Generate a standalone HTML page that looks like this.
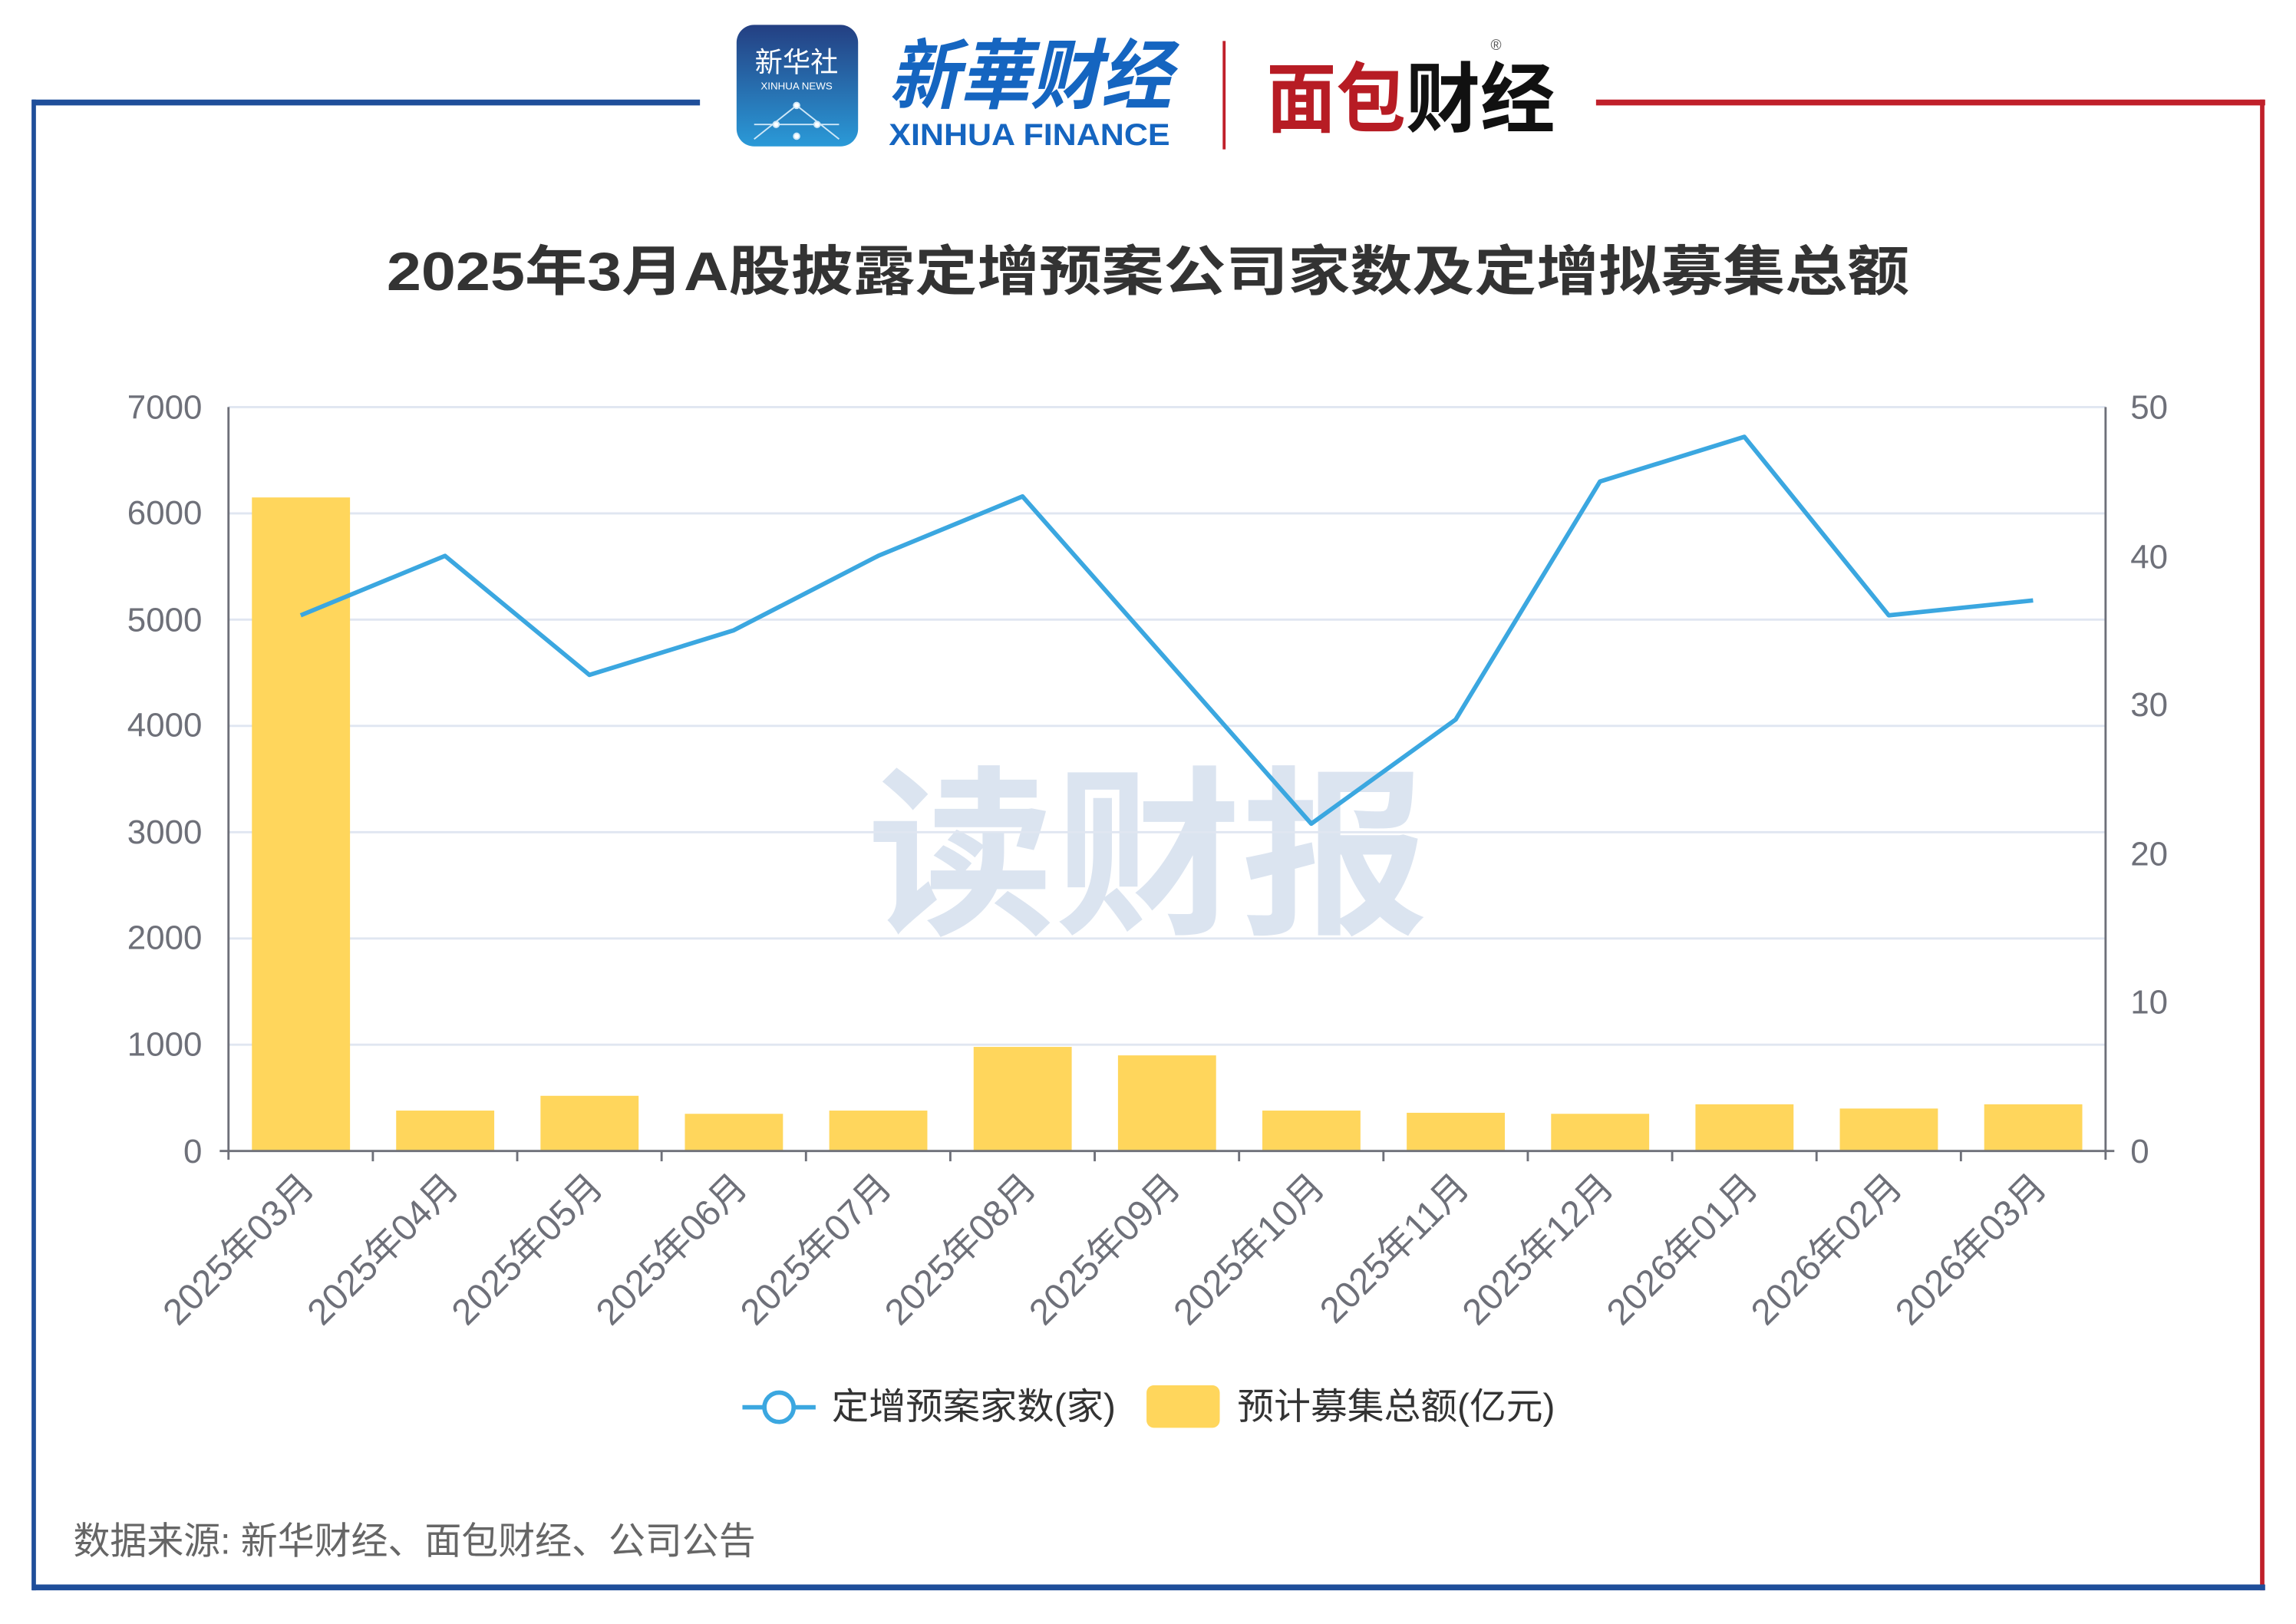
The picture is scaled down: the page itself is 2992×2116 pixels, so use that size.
<!DOCTYPE html>
<html><head><meta charset="utf-8"><style>
html,body{margin:0;padding:0;background:#fff;}
svg{display:block;}
text{font-family:"Liberation Sans","Noto Sans CJK SC",sans-serif;}
</style></head><body>
<svg width="2992" height="2116" viewBox="0 0 1568 1109" xmlns="http://www.w3.org/2000/svg">
<rect width="1568" height="1109" fill="#fff"/>
<line x1="22" y1="70" x2="478" y2="70" stroke="#1f4e9a" stroke-width="4"/>
<line x1="23" y1="68" x2="23" y2="1086" stroke="#1f4e9a" stroke-width="3"/>
<line x1="1090" y1="70" x2="1547" y2="70" stroke="#c0202a" stroke-width="4"/>
<line x1="1545" y1="68" x2="1545" y2="1086" stroke="#c0202a" stroke-width="3"/>
<line x1="22" y1="1084" x2="1547" y2="1084" stroke="#1f4e9a" stroke-width="4"/>
<defs><linearGradient id="lg" x1="0" y1="0" x2="0" y2="1"><stop offset="0" stop-color="#243f82"/><stop offset="1" stop-color="#2a9ad8"/></linearGradient></defs>
<rect x="503" y="17" width="83" height="83" rx="12" fill="url(#lg)"/>
<text x="544" y="49" font-size="19" fill="#fff" text-anchor="middle">新华社</text>
<text x="544" y="61" font-size="7" fill="#fff" text-anchor="middle">XINHUA NEWS</text>
<g stroke="#cfe8f8" stroke-width="1" fill="#fff"><line x1="515" y1="95" x2="544" y2="72"/><line x1="573" y1="95" x2="544" y2="72"/><line x1="515" y1="85" x2="573" y2="85"/><circle cx="544" cy="72" r="2"/><circle cx="530" cy="85" r="2"/><circle cx="558" cy="85" r="2"/><circle cx="544" cy="93" r="2"/></g>
<text x="607" y="70" font-size="52" fill="#1565c0" font-style="italic" font-weight="bold" textLength="193" lengthAdjust="spacingAndGlyphs">新華财经</text>
<text x="607" y="99" font-size="21" fill="#1565c0" font-weight="bold" font-family="Liberation Serif" textLength="192" lengthAdjust="spacingAndGlyphs">XINHUA FINANCE</text>
<line x1="836" y1="28" x2="836" y2="102" stroke="#c0202a" stroke-width="2"/>
<text x="865" y="86" font-size="52" fill="#b71c24" font-weight="bold" textLength="95" lengthAdjust="spacingAndGlyphs">面包</text>
<text x="960" y="86" font-size="52" fill="#111" font-weight="bold" textLength="102" lengthAdjust="spacingAndGlyphs">财经</text>
<text x="1018" y="34" font-size="10" fill="#555">®</text>
<text x="784" y="198" font-size="37" font-weight="bold" fill="#333" text-anchor="middle" textLength="1040" lengthAdjust="spacingAndGlyphs">2025年3月A股披露定增预案公司家数及定增拟募集总额</text>
<text x="784" y="628" font-size="124" font-weight="bold" fill="#dbe4f0" text-anchor="middle" textLength="383" lengthAdjust="spacingAndGlyphs">读财报</text>
<g stroke="#e0e6f1" stroke-width="1.5">
<line x1="156" y1="278" x2="1438" y2="278"/><line x1="156" y1="350.6" x2="1438" y2="350.6"/>
<line x1="156" y1="423.1" x2="1438" y2="423.1"/><line x1="156" y1="495.7" x2="1438" y2="495.7"/>
<line x1="156" y1="568.3" x2="1438" y2="568.3"/><line x1="156" y1="640.9" x2="1438" y2="640.9"/>
<line x1="156" y1="713.4" x2="1438" y2="713.4"/>
</g>
<g fill="#ffd65c">
<rect x="172" y="339.7" width="67" height="446.3"/>
<rect x="270.5" y="758.4" width="67" height="27.6"/>
<rect x="369.1" y="748.3" width="67" height="37.7"/>
<rect x="467.7" y="760.6" width="67" height="25.4"/>
<rect x="566.3" y="758.4" width="67" height="27.6"/>
<rect x="664.9" y="714.9" width="67" height="71.1"/>
<rect x="763.5" y="720.7" width="67" height="65.3"/>
<rect x="862.1" y="758.4" width="67" height="27.6"/>
<rect x="960.7" y="759.9" width="67" height="26.1"/>
<rect x="1059.3" y="760.6" width="67" height="25.4"/>
<rect x="1157.9" y="754.1" width="67" height="31.9"/>
<rect x="1256.5" y="757" width="67" height="29"/>
<rect x="1355.1" y="754.1" width="67" height="31.9"/>
</g>
<g stroke="#6e7079" stroke-width="1.5" fill="none">
<line x1="156" y1="278" x2="156" y2="792"/>
<line x1="1438" y1="278" x2="1438" y2="792"/>
<line x1="150" y1="786" x2="1444" y2="786"/>
<path d="M254.6 786v7M353.2 786v7M451.8 786v7M550.4 786v7M649 786v7M747.6 786v7M846.2 786v7M944.8 786v7M1043.4 786v7M1142 786v7M1240.6 786v7M1339.2 786v7"/>
</g>
<polyline fill="none" stroke="#3ba7e0" stroke-width="3" stroke-linejoin="round" points="205.3,420.2 303.9,379.6 402.5,460.9 501.1,430.4 599.7,379.6 698.3,339 796.9,450.7 895.5,562.5 994.1,491.4 1092.7,328.8 1191.3,298.3 1289.9,420.2 1388.5,410"/>
<g font-size="23" fill="#6e7079" text-anchor="end">
<text x="138" y="286">7000</text><text x="138" y="358">6000</text><text x="138" y="431">5000</text>
<text x="138" y="503">4000</text><text x="138" y="576">3000</text><text x="138" y="648">2000</text>
<text x="138" y="721">1000</text><text x="138" y="794">0</text>
</g>
<g font-size="23" fill="#6e7079">
<text x="1455" y="286">50</text><text x="1455" y="388">40</text><text x="1455" y="489">30</text>
<text x="1455" y="591">20</text><text x="1455" y="692">10</text><text x="1455" y="794">0</text>
</g>
<g font-size="25" fill="#6e7079" text-anchor="end">
<text transform="translate(216,812) rotate(-45)">2025年03月</text>
<text transform="translate(314.6,812) rotate(-45)">2025年04月</text>
<text transform="translate(413.2,812) rotate(-45)">2025年05月</text>
<text transform="translate(511.8,812) rotate(-45)">2025年06月</text>
<text transform="translate(610.4,812) rotate(-45)">2025年07月</text>
<text transform="translate(709,812) rotate(-45)">2025年08月</text>
<text transform="translate(807.6,812) rotate(-45)">2025年09月</text>
<text transform="translate(906.2,812) rotate(-45)">2025年10月</text>
<text transform="translate(1004.8,812) rotate(-45)">2025年11月</text>
<text transform="translate(1103.4,812) rotate(-45)">2025年12月</text>
<text transform="translate(1202,812) rotate(-45)">2026年01月</text>
<text transform="translate(1300.6,812) rotate(-45)">2026年02月</text>
<text transform="translate(1399.2,812) rotate(-45)">2026年03月</text>
</g>
<line x1="507" y1="961" x2="557" y2="961" stroke="#3ba7e0" stroke-width="3"/>
<circle cx="532" cy="961" r="10" fill="#fff" stroke="#3ba7e0" stroke-width="3"/>
<text x="568" y="969" font-size="25" fill="#333" textLength="194" lengthAdjust="spacingAndGlyphs">定增预案家数(家)</text>
<rect x="783" y="946" width="50" height="29" rx="5" fill="#ffd65c"/>
<text x="845" y="969" font-size="25" fill="#333" textLength="217" lengthAdjust="spacingAndGlyphs">预计募集总额(亿元)</text>
<text x="50" y="1061" font-size="25.5" fill="#666" textLength="466" lengthAdjust="spacingAndGlyphs">数据来源: 新华财经、面包财经、公司公告</text>
</svg>
</body></html>
